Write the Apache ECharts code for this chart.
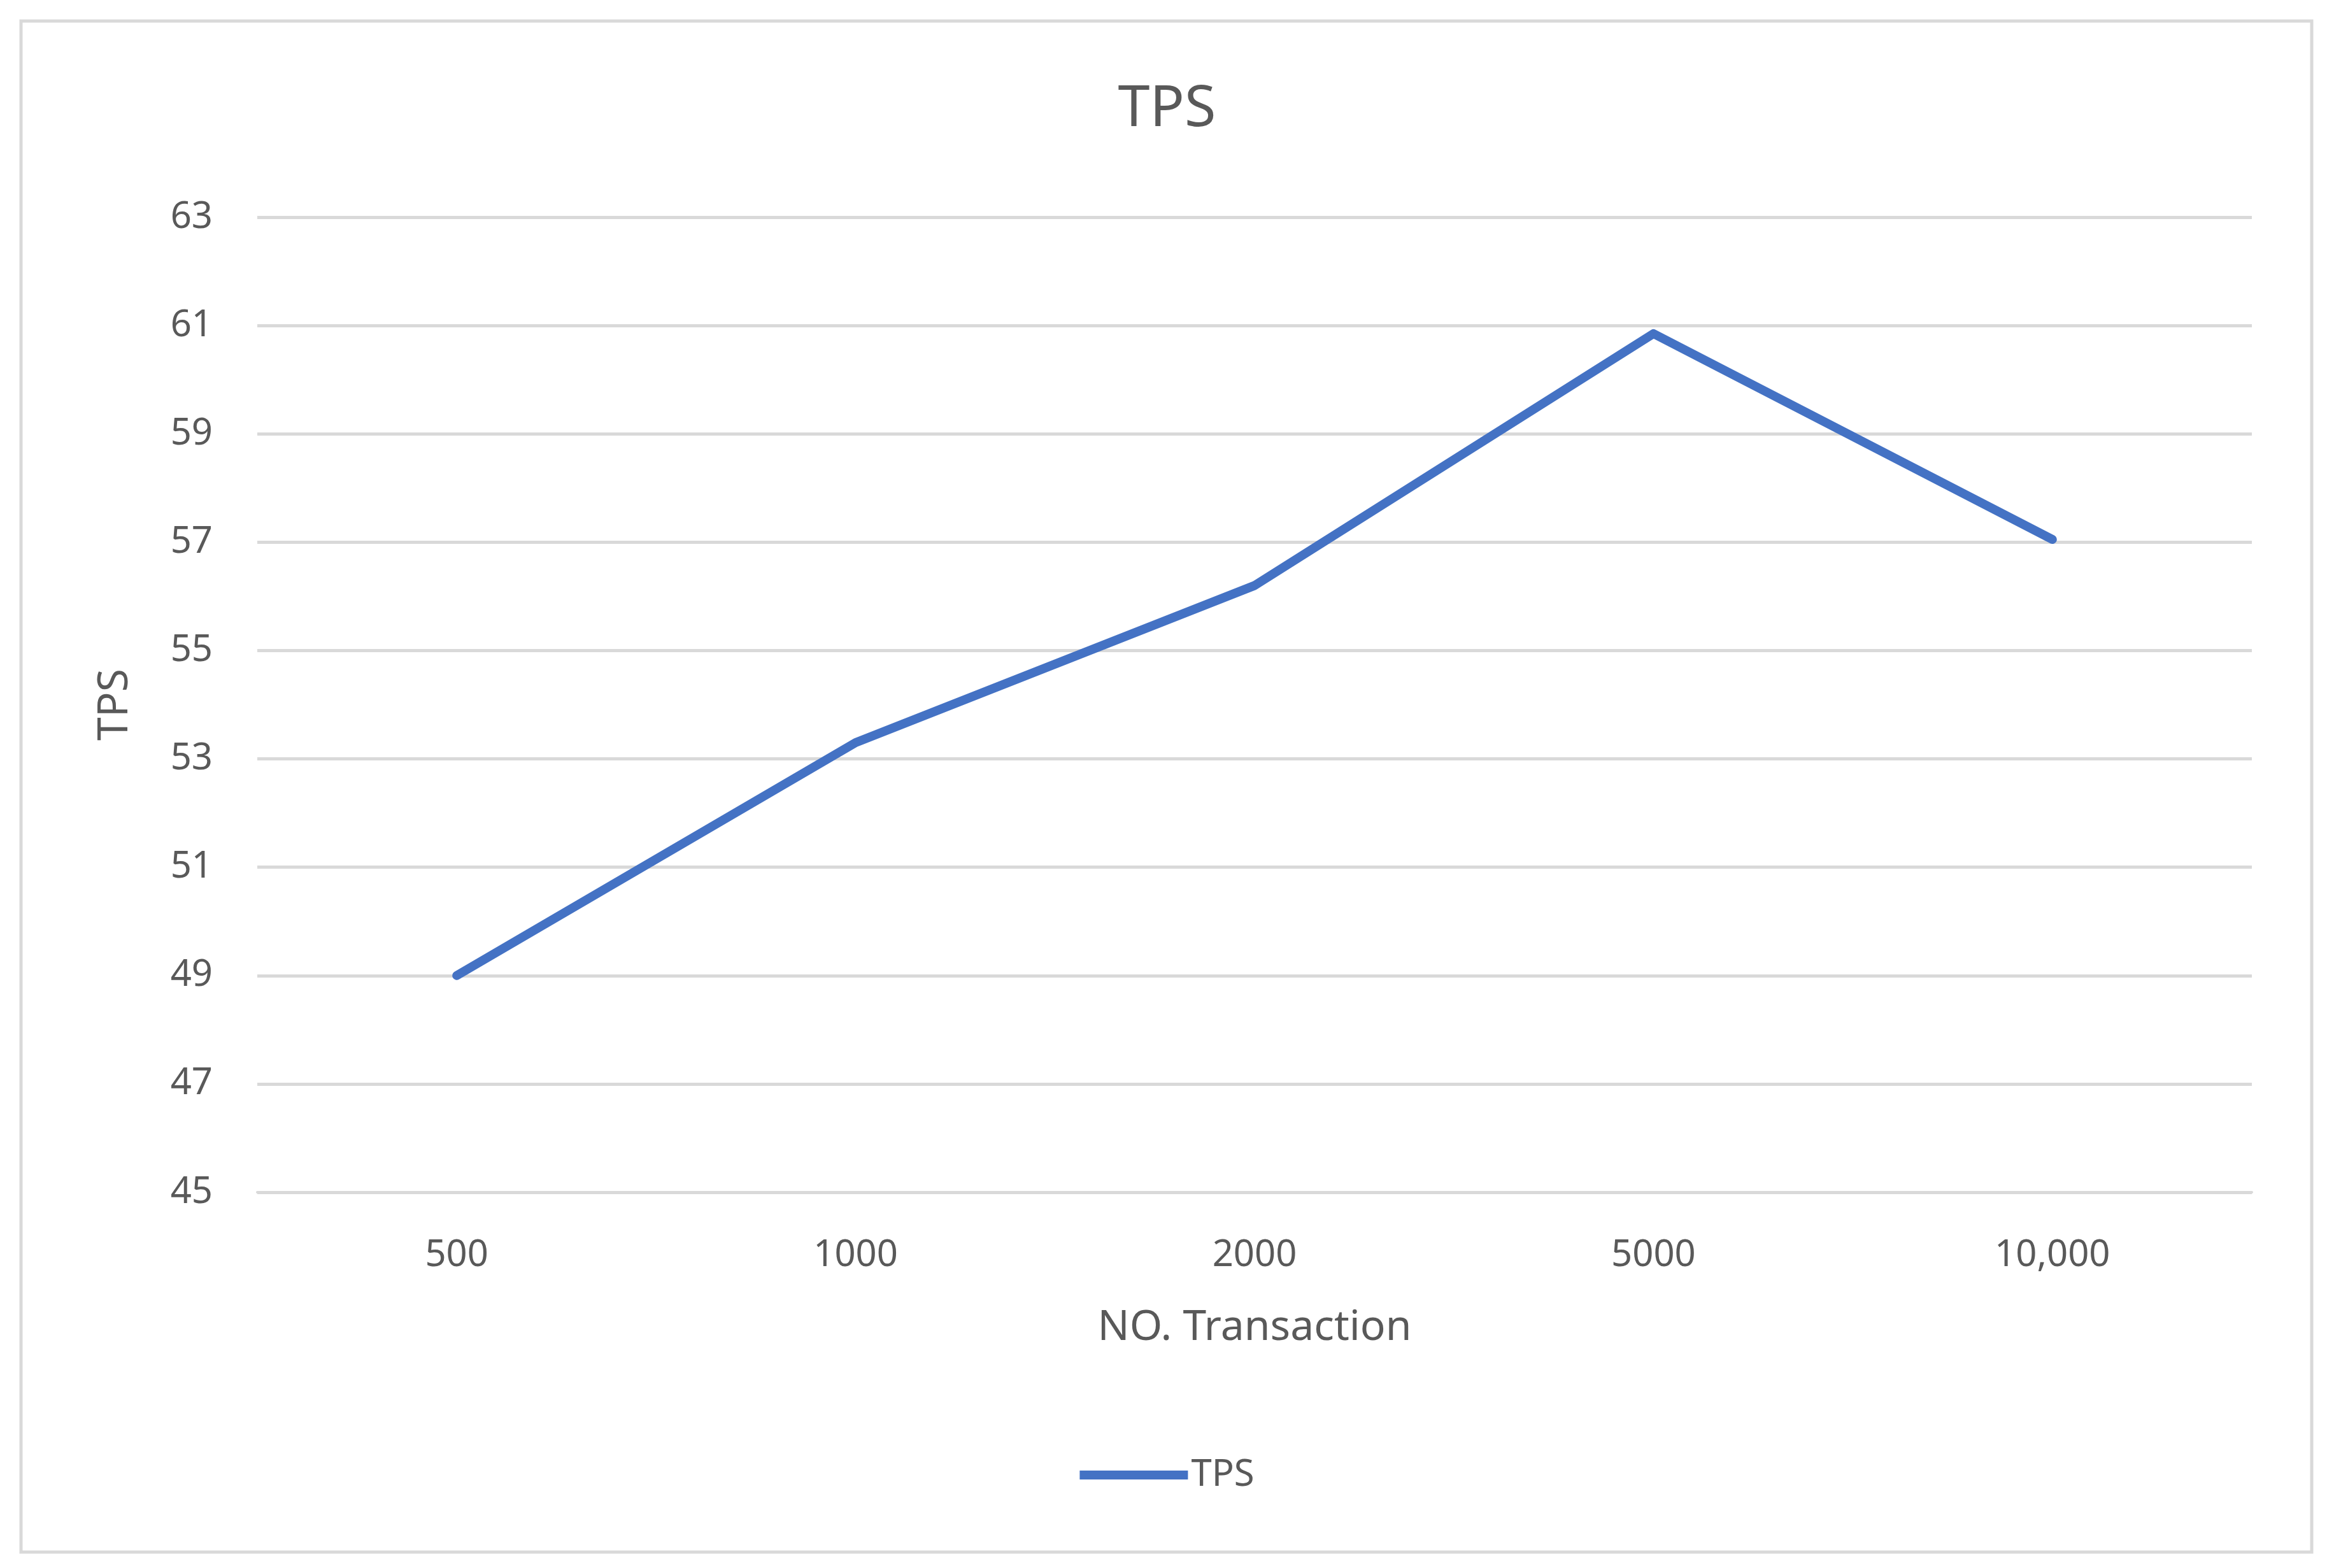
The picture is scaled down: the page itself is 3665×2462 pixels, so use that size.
<!DOCTYPE html>
<html>
<head>
<meta charset="utf-8">
<script src="https://cdn.jsdelivr.net/npm/echarts@6/dist/echarts.min.js"></script>
<style>
  html, body { margin: 0; padding: 0; background: #fff; }
  #chart { width: 3665px; height: 2462px; }
</style>
</head>
<body>
<div id="chart"></div>
<script>
var categories = ['500', '1000', '2000', '5000', '10,000'];
var tpsValues = [49.0, 53.3, 56.2, 60.85, 57.05];
var yTicks = { min: 45, max: 63, interval: 2 };

var chart = echarts.init(document.getElementById('chart'));
var textColor = '#595959';
var font = 'Noto Sans';

var option = {
  backgroundColor: '#fff',
  textStyle: { fontFamily: font },
  graphic: [{
    type: 'rect',
    shape: { x: 33, y: 33, width: 3597, height: 2404 },
    style: { fill: 'none', stroke: '#d9d9d9', lineWidth: 5 }
  }],
  title: {
    text: 'TPS',
    left: 'center',
    top: 122,
    textStyle: { color: textColor, fontSize: 90, fontWeight: 'normal', fontFamily: font }
  },
  legend: {
    bottom: 112,
    left: 'center',
    itemWidth: 170,
    itemHeight: 14,
    icon: 'rect',
    textStyle: { color: textColor, fontSize: 58, fontFamily: font },
    data: ['TPS']
  },
  grid: { left: 404, right: 129, top: 341, bottom: 590 },
  xAxis: {
    type: 'category',
    data: categories,
    boundaryGap: true,
    name: 'NO. Transaction',
    nameLocation: 'middle',
    nameGap: 180,
    nameTextStyle: { color: textColor, fontSize: 66, fontFamily: font },
    axisLine: { lineStyle: { color: '#d9d9d9', width: 4 } },
    axisTick: { show: false },
    axisLabel: { color: textColor, fontSize: 58, margin: 70, fontFamily: font },
  },
  yAxis: {
    type: 'value',
    min: yTicks.min,
    max: yTicks.max,
    interval: yTicks.interval,
    name: 'TPS',
    nameLocation: 'middle',
    nameGap: 190,
    nameTextStyle: { color: textColor, fontSize: 66, fontFamily: font },
    axisLine: { show: false },
    axisTick: { show: false },
    axisLabel: { color: textColor, fontSize: 58, margin: 70, fontFamily: font },
    splitLine: { lineStyle: { color: '#d9d9d9', width: 5 } }
  },
  series: [{
    name: 'TPS',
    type: 'line',
    data: tpsValues,
    symbol: 'none',
    lineStyle: { color: '#4472C4', width: 14, cap: 'round', join: 'round' },
    itemStyle: { color: '#4472C4' }
  }]
};
chart.setOption(option);
</script>
</body>
</html>
